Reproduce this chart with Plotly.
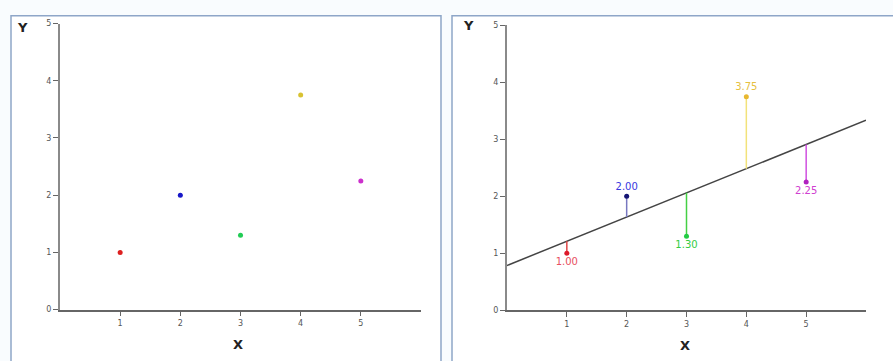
import numpy as np
import plotly.graph_objects as go

# ---- data ----
x_vals = [1, 2, 3, 4, 5]
y_vals = [1.00, 2.00, 1.30, 3.75, 2.25]
point_labels = ["1.00", "2.00", "1.30", "3.75", "2.25"]
label_pos = ["bottom center", "top center", "bottom center", "top center", "bottom center"]
left_colors = ["#dd2020", "#1818c8", "#22cc55", "#d8c232", "#cc30cc"]
right_marker_colors = ["#dd1a2a", "#151575", "#22cc44", "#e8b830", "#b020c0"]
resid_colors = ["#e04848", "#7878c0", "#44d044", "#f2e27a", "#d050e0"]
text_colors = ["#e85060", "#3838e0", "#33cc44", "#e6c040", "#d040d0"]
x_ticks = [1, 2, 3, 4, 5]
y_ticks = [0, 1, 2, 3, 4, 5]

W, H = 893, 361

def px_x(p):
    return p / W

def px_y(p):
    return (H - p) / H

fig = go.Figure()

# left panel points
for xv, yv, c in zip(x_vals, y_vals, left_colors):
    fig.add_trace(go.Scatter(x=[xv], y=[yv], mode="markers",
                             marker=dict(color=c, size=5),
                             xaxis="x", yaxis="y", showlegend=False))

# regression line (least squares from data)
slope, intercept = np.polyfit(x_vals, y_vals, 1)
fit_x = [0, 6]
fit_y = [intercept + slope * v for v in fit_x]
fig.add_trace(go.Scatter(x=fit_x, y=fit_y, mode="lines",
                         line=dict(color="#444444", width=1.5),
                         xaxis="x2", yaxis="y2", showlegend=False))

# residuals
for xv, yv, c in zip(x_vals, y_vals, resid_colors):
    yhat = intercept + slope * xv
    fig.add_trace(go.Scatter(x=[xv, xv], y=[yv, yhat], mode="lines",
                             line=dict(color=c, width=1.5),
                             xaxis="x2", yaxis="y2", showlegend=False))

# right panel points with labels
for xv, yv, lab, pos, mc, tc in zip(x_vals, y_vals, point_labels, label_pos,
                                    right_marker_colors, text_colors):
    fig.add_trace(go.Scatter(x=[xv], y=[yv], mode="markers+text",
                             marker=dict(color=mc, size=5),
                             text=[lab], textposition=pos,
                             textfont=dict(color=tc, size=10, family="DejaVu Sans"),
                             xaxis="x2", yaxis="y2", showlegend=False))

axis_common = dict(showgrid=False, zeroline=False, showline=True,
                   ticks="outside", ticklen=5, tickwidth=1,
                   tickfont=dict(size=8, color="#555555", family="DejaVu Sans"))

title_font = dict(size=13, color="#222222", family="DejaVu Sans")

fig.update_layout(
    width=W, height=H,
    margin=dict(l=0, r=0, t=0, b=0),
    paper_bgcolor="#f9fcfe",
    plot_bgcolor="rgba(0,0,0,0)",
    hovermode=False,
    xaxis=dict(domain=[px_x(60), px_x(421)], range=[0, 6], tickvals=x_ticks,
               linecolor="#666666", linewidth=1.5, tickcolor="#666666",
               anchor="y", **axis_common),
    yaxis=dict(domain=[px_y(313.5), px_y(20)], range=[0, 5], tickvals=y_ticks,
               linecolor="#8a8a8a", linewidth=2, tickcolor="#666666",
               anchor="x", **axis_common),
    xaxis2=dict(domain=[px_x(507), px_x(866)], range=[0, 6], tickvals=x_ticks,
                linecolor="#666666", linewidth=1.5, tickcolor="#666666",
                anchor="y2", **axis_common),
    yaxis2=dict(domain=[px_y(314), px_y(22)], range=[0, 5], tickvals=y_ticks,
                linecolor="#8a8a8a", linewidth=2, tickcolor="#666666",
                anchor="x2", **axis_common),
    shapes=[
        dict(type="rect", xref="paper", yref="paper", layer="below",
             x0=px_x(11), x1=px_x(441), y0=-0.05, y1=px_y(12),
             line=dict(color="#8ea6c8", width=1.5), fillcolor="#ffffff"),
        dict(type="rect", xref="paper", yref="paper", layer="below",
             x0=px_x(452), x1=1.05, y0=-0.05, y1=px_y(12),
             line=dict(color="#8ea6c8", width=1.5), fillcolor="#ffffff"),
    ],
    annotations=[
        dict(text="<b>Y</b>", xref="paper", yref="paper", x=px_x(22), y=px_y(24),
             xanchor="center", yanchor="middle", showarrow=False, font=title_font),
        dict(text="<b>X</b>", xref="paper", yref="paper", x=px_x(238), y=px_y(349),
             xanchor="center", yanchor="middle", showarrow=False, font=title_font),
        dict(text="<b>Y</b>", xref="paper", yref="paper", x=px_x(468), y=px_y(22),
             xanchor="center", yanchor="middle", showarrow=False, font=title_font),
        dict(text="<b>X</b>", xref="paper", yref="paper", x=px_x(685), y=px_y(350),
             xanchor="center", yanchor="middle", showarrow=False, font=title_font),
    ],
)

fig.write_html("out.html")
